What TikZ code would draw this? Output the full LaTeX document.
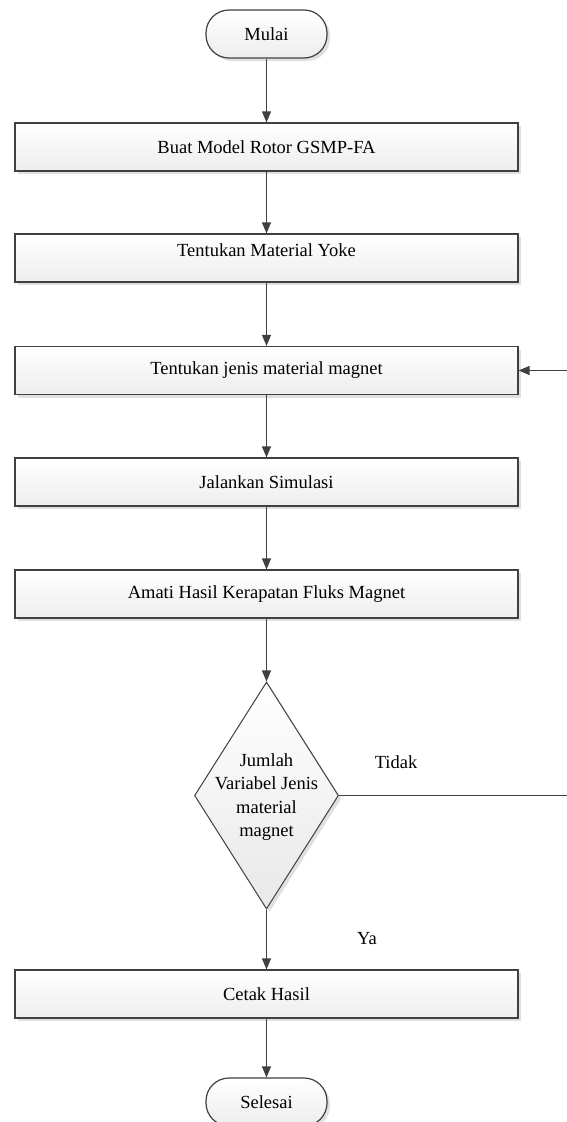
\documentclass[tikz,border=0pt]{standalone}
\usepackage{fontspec}
\setmainfont{Liberation Serif}
\usetikzlibrary{positioning,arrows.meta,shapes.geometric,shadows}

\begin{document}
\begin{tikzpicture}[
  x=1pt, y=-1pt,
  font=\fontsize{18.5}{23.6}\selectfont,
  proc/.style={rectangle, draw=black!75, line width=1.2pt, top color=white, bottom color=black!7,
    minimum width=503pt, minimum height=48pt, inner sep=0pt,
    drop shadow={shadow xshift=3pt, shadow yshift=-3pt, fill=black!12, opacity=1}},
  term/.style={rectangle, rounded corners=23pt, draw=black!75, line width=1.2pt, top color=white, bottom color=black!7,
    minimum width=121pt, minimum height=48pt, inner sep=0pt,
    drop shadow={shadow xshift=3pt, shadow yshift=-3pt, fill=black!12, opacity=1}},
  dec/.style={diamond, draw=black!75, line width=1pt, top color=white, bottom color=black!9,
    minimum width=144pt, minimum height=227pt, inner sep=0pt,
    drop shadow={shadow xshift=3pt, shadow yshift=-3pt, fill=black!12, opacity=1}},
  arr/.style={draw=black!75, line width=1.2pt, -{Triangle[length=11pt, width=9pt]}},
  >=Stealth
]
  \useasboundingbox (0,0) rectangle (566,1122);

  \node[term] (start) at (266.5,34) {Mulai};
  \node[proc] (model) at (266.5,147) {Buat Model Rotor GSMP-FA};
  \node[proc] (yoke) at (266.5,258) {\raisebox{16pt}{Tentukan Material Yoke}};
  \node[proc] (magnet) at (266.5,370.5) {Tentukan jenis material magnet};
  \node[proc] (sim) at (266.5,482) {Jalankan Simulasi};
  \node[proc] (fluks) at (266.5,594) {Amati Hasil Kerapatan Fluks Magnet};

  \node[dec] (cek) at (266.5,795.5) {};
  \node[align=center] (cektext) at (266.5,797) {Jumlah\\Variabel Jenis\\material\\magnet};

  \node[proc] (cetak) at (266.5,994) {Cetak Hasil};
  \node[term] (stop) at (266.5,1102) {Selesai};

  \node (tidak) at (396,762) {Tidak};
  \node (ya) at (367,939) {Ya};

  \draw[arr] (start) -- (model);
  \draw[arr] (model) -- (yoke);
  \draw[arr] (yoke) -- (magnet);
  \draw[arr] (magnet) -- (sim);
  \draw[arr] (sim) -- (fluks);
  \draw[arr] (fluks) -- (cek);
  \draw[arr] (cek) -- (cetak);
  \draw[arr] (cetak) -- (stop);
  \draw[arr] (cek.east) -- ++(230,0) |- (magnet.east);
\end{tikzpicture}
\end{document}
